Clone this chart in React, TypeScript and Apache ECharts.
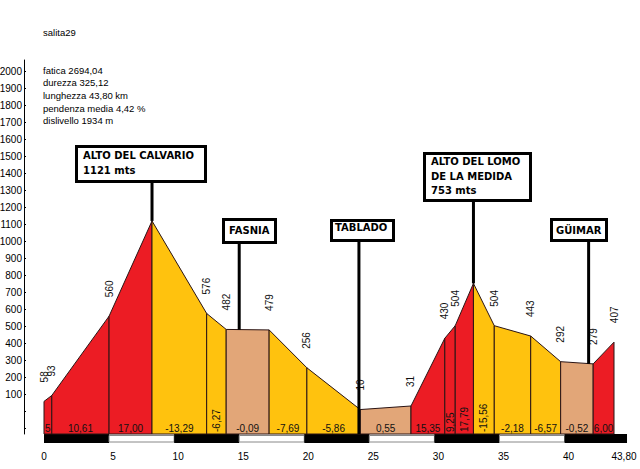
import React, { useEffect, useRef } from 'react';
import * as echarts from 'echarts';

// ---------- data ----------
const titleText = 'salita29';
const statsLines = [
  'fatica 2694,04',
  'durezza 325,12',
  'lunghezza 43,80 km',
  'pendenza media 4,42 %',
  'dislivello 1934 m',
];

const distancesKm = [0, 0.6, 5.0, 8.3, 12.5, 14.0, 17.3, 20.2, 24.3, 28.2, 30.8, 31.6, 33.0, 34.6, 37.4, 39.7, 42.2, 43.8];
const elevationsM = [58, 93, 560, 1121, 576, 482, 479, 256, 10, 31, 430, 504, 753, 504, 443, 292, 279, 407];
const elevationLabels = ['58', '93', '560', '', '576', '482', '479', '256', '10', '31', '430', '504', '', '504', '443', '292', '279', '407'];
const gradeLabels = ['5,83', '10,61', '17,00', '-13,29', '-6,27', '-0,09', '-7,69', '-5,86', '0,55', '15,35', '9,25', '17,79', '-15,56', '-2,18', '-6,57', '-0,52', '6,00'];

const xTickValues = [0, 5, 10, 15, 20, 25, 30, 35, 40, 43.8];
const xTickLabels = ['0', '5', '10', '15', '20', '25', '30', '35', '40', '43,80'];
const yTickLabels = ['100', '200', '300', '400', '500', '600', '700', '800', '900', '1000', '1100', '1200', '1300', '1400', '1500', '1600', '1700', '1800', '1900', '2000'];
const kmBlockEdges = [0, 5, 10, 15, 20, 25, 30, 35, 40, 44.8];

const annotationNames = ['ALTO DEL CALVARIO\n1121 mts', 'FASNIA', 'TABLADO', 'ALTO DEL LOMO\nDE LA MEDIDA\n753 mts', 'GÜIMAR'];
const annotationKm = [8.3, 15.0, 24.2, 33.0, 41.85];
const annotationFootM: (number | null)[] = [1121, 480, null, 753, 279];

// ---------- layout / style ----------
const Y_MIN = -134;
const Y_MAX = 2069;
const RED = '#EC1C24';
const YELLOW = '#FFC20E';
const TAN = '#E2A678';
const OUTLINE = '#2a1414';
const FONT = '"Liberation Sans", Arial, sans-serif';
const BOX_FONT = '"DejaVu Sans", sans-serif';
const rotatedGrades = [4, 10, 11, 12];
const boxLayout = [
  { left: 75, top: 145, width: 132, height: 38, padX: 8, dy: 3.2, lh: 15 },
  { left: 222, top: 218, width: 55, height: 26, padX: 7, dy: 5.5, lh: 14 },
  { left: 330, top: 219, width: 65, height: 23, padX: 5, dy: 1.5, lh: 14 },
  { left: 423, top: 152, width: 109, height: 50, padX: 8, dy: 2.5, lh: 14.5 },
  { left: 550, top: 218, width: 58, height: 24, padX: 6, dy: 5, lh: 14 },
];

function gradeColor(label: string) {
  const g = parseFloat(label.replace(',', '.'));
  if (Math.abs(g) < 1) return TAN;
  return g > 0 ? RED : YELLOW;
}

const segmentData = gradeLabels.map((_, i) => [
  distancesKm[i], elevationsM[i], distancesKm[i + 1], elevationsM[i + 1], i,
]);
const pointData = distancesKm.map((d, i) => [d, elevationsM[i], i]);
const blockData = kmBlockEdges.slice(0, -1).map((e, i) => [e, kmBlockEdges[i + 1], i]);
const annotationData = annotationKm.map((k, i) => [k, annotationFootM[i] ?? Y_MIN, i]);

export default function App() {
  const ref = useRef<HTMLDivElement>(null);
  useEffect(() => {
    if (!ref.current) return;
    const chart = echarts.init(ref.current, null, { renderer: 'svg' });
    const option: any = {
      animation: false,
      backgroundColor: '#fff',
      textStyle: { fontFamily: FONT },
      grid: { left: 44, right: 26, top: 60, bottom: 35, containLabel: false, outerBoundsMode: 'none' },
      xAxis: {
        type: 'value',
        min: 0,
        max: 43.8,
        interval: 5,
        axisLine: { show: false },
        axisTick: { show: false },
        splitLine: { show: false },
        axisLabel: {
          margin: 17,
          fontSize: 10,
          color: '#000',
          showMaxLabel: true,
          formatter: (v: number) => {
            const idx = xTickValues.findIndex((t) => Math.abs(t - v) < 1e-6);
            if (idx < 0) return '';
            if (idx === 0) return xTickLabels[idx];
            if (idx === xTickValues.length - 1) return '{l|' + xTickLabels[idx] + '}';
            return '{s|' + xTickLabels[idx] + '}';
          },
          rich: {
            s: { padding: [0, 0, 0, 8], fontSize: 10, color: '#000', fontFamily: FONT },
            l: { padding: [0, 0, 0, 20], fontSize: 10, color: '#000', fontFamily: FONT },
          },
        },
      },
      yAxis: {
        type: 'value',
        min: Y_MIN,
        max: Y_MAX,
        splitNumber: 22,
        minInterval: 100,
        maxInterval: 100,
        offset: 20,
        axisLine: { show: true, onZero: false, lineStyle: { color: '#000', width: 1 } },
        axisTick: { show: true, inside: true, length: 2, lineStyle: { color: '#000' } },
        splitLine: { show: false },
        axisLabel: {
          margin: 2,
          fontSize: 10,
          color: '#000',
          showMinLabel: false,
          showMaxLabel: false,
          formatter: (v: number) => (yTickLabels.includes(String(v)) ? String(v) : ''),
        },
      },
      graphic: [
        { type: 'text', left: 43, top: 27, style: { text: titleText, fontSize: 9.5, fill: '#000', fontFamily: FONT } },
        {
          type: 'text', left: 43, top: 64,
          style: { text: statsLines.join('\n'), fontSize: 9.5, lineHeight: 12.6, fill: '#000', fontFamily: FONT },
        },
      ],
      series: [
        {
          type: 'custom',
          name: 'km',
          clip: false,
          z: 2,
          data: blockData,
          encode: { x: [0, 1] },
          renderItem: (params: any, api: any) => {
            const a = api.coord([api.value(0), Y_MIN]);
            const b = api.coord([api.value(1), Y_MIN]);
            const i = api.value(2);
            const black = i % 2 === 0;
            return {
              type: 'rect',
              shape: black
                ? { x: a[0], y: a[1], width: b[0] - a[0], height: 9 }
                : { x: a[0], y: a[1] + 1.5, width: b[0] - a[0], height: 6.5 },
              style: black ? { fill: '#000' } : { fill: '#fff', stroke: '#888', lineWidth: 1 },
            };
          },
        },
        {
          type: 'custom',
          name: 'profile',
          clip: false,
          z: 3,
          data: segmentData,
          encode: { x: [0, 2], y: [1, 3] },
          renderItem: (params: any, api: any) => {
            const x0 = api.value(0), y0 = api.value(1), x1 = api.value(2), y1 = api.value(3);
            const i = api.value(4);
            const p0 = api.coord([x0, y0]);
            const p1 = api.coord([x1, y1]);
            const b0 = api.coord([x0, Y_MIN]);
            const b1 = api.coord([x1, Y_MIN]);
            const label = gradeLabels[i];
            const xc = (b0[0] + b1[0]) / 2;
            const w = b1[0] - b0[0];
            const rotated = rotatedGrades.includes(i);
            const text = rotated
              ? {
                  type: 'text', x: xc, y: b0[1] - 2, rotation: Math.PI / 2, z2: 5,
                  style: { text: label, fontSize: 10, fill: '#111', align: 'left', verticalAlign: 'middle', fontFamily: FONT },
                }
              : {
                  type: 'text', x: xc, y: b0[1] - 6, z2: 5,
                  style: {
                    text: label, fontSize: 10, fill: '#111', align: 'center', verticalAlign: 'middle', fontFamily: FONT,
                    width: w, overflow: 'truncate', ellipsis: '',
                  },
                };
            return {
              type: 'group',
              children: [
                {
                  type: 'polygon',
                  shape: { points: [b0, p0, p1, b1] },
                  style: { fill: gradeColor(label), stroke: OUTLINE, lineWidth: 1 },
                },
                text,
              ],
            };
          },
        },
        {
          type: 'custom',
          name: 'elevations',
          clip: false,
          z: 4,
          data: pointData,
          encode: { x: 0, y: 1 },
          renderItem: (params: any, api: any) => {
            const p = api.coord([api.value(0), api.value(1)]);
            const i = api.value(2);
            return {
              type: 'text', x: p[0], y: p[1] - 19, rotation: Math.PI / 2,
              style: { text: elevationLabels[i], fontSize: 10, fill: '#111', align: 'left', verticalAlign: 'middle', fontFamily: FONT },
            };
          },
        },
        {
          type: 'custom',
          name: 'places',
          clip: false,
          z: 6,
          data: annotationData,
          encode: { x: 0, y: 1 },
          renderItem: (params: any, api: any) => {
            const i = api.value(2);
            const foot = api.coord([api.value(0), api.value(1)]);
            const box = boxLayout[i];
            return {
              type: 'group',
              children: [
                {
                  type: 'line',
                  shape: { x1: foot[0], y1: box.top + box.height, x2: foot[0], y2: foot[1] },
                  style: { stroke: '#000', lineWidth: 3 },
                },
                {
                  type: 'rect',
                  shape: { x: box.left + 1.5, y: box.top + 1.5, width: box.width - 3, height: box.height - 3 },
                  style: { fill: '#fff', stroke: '#000', lineWidth: 3 },
                },
                {
                  type: 'text',
                  x: box.left + box.padX,
                  y: box.top + box.dy,
                  style: {
                    text: annotationNames[i], fontSize: 10, fontWeight: 'bold', fill: '#000',
                    fontFamily: BOX_FONT, lineHeight: box.lh, align: 'left', verticalAlign: 'top',
                  },
                },
              ],
            };
          },
        },
      ],
    };
    chart.setOption(option);
    return () => chart.dispose();
  }, []);
  return (
    <div
      ref={ref}
      style={{ position: 'absolute', left: 0, top: 0, width: 640, height: 469, background: '#fff' }}
    />
  );
}
